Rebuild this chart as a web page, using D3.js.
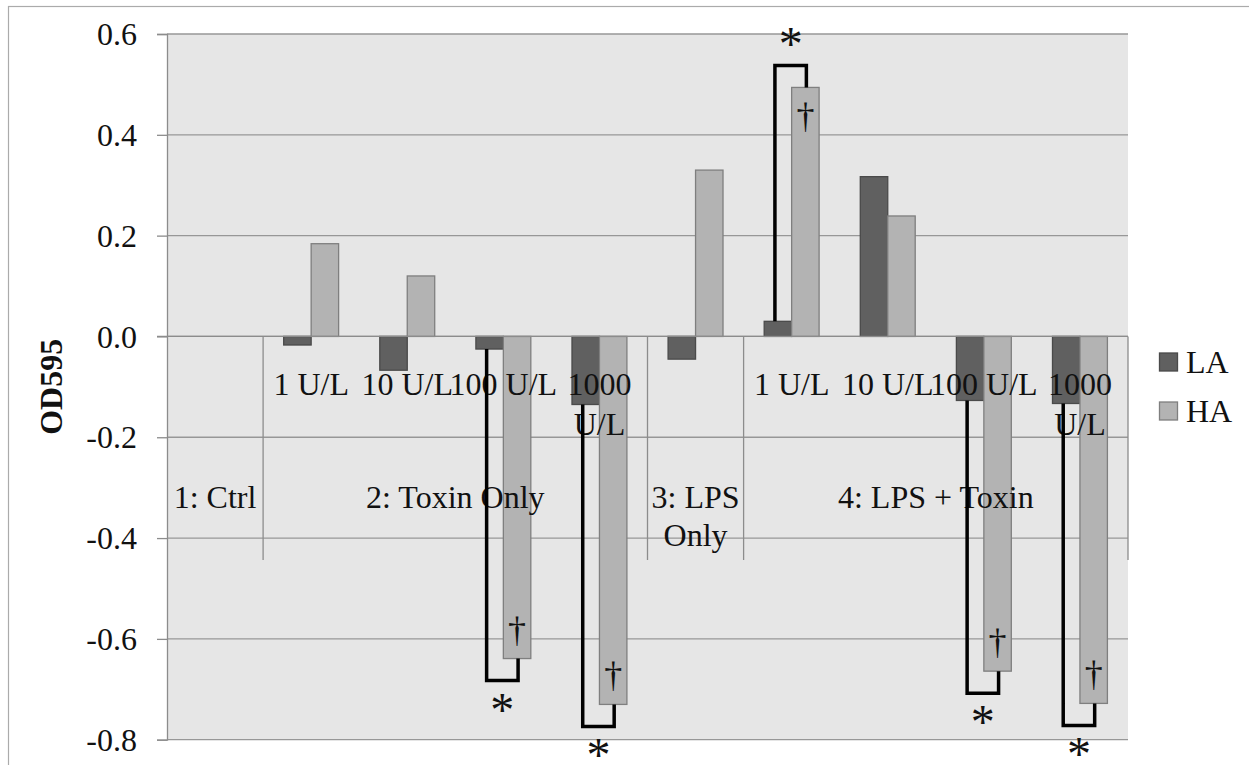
<!DOCTYPE html>
<html>
<head>
<meta charset="utf-8">
<script src="https://cdn.jsdelivr.net/npm/d3@7"></script>
<style>
  html, body { margin: 0; padding: 0; background: #fff; }
  svg { display: block; font-family: "Liberation Serif", "Times New Roman", serif; }
</style>
</head>
<body>
<svg id="chart" width="1249" height="765"></svg>
<script>
// ---- data ----
const categories = ["c1", "c2", "c3", "c4", "c5", "c6", "c7", "c8", "c9", "c10"];
const innerLabels = ["", "1 U/L", "10 U/L", "100 U/L", "1000\nU/L", "", "1 U/L", "10 U/L", "100 U/L", "1000\nU/L"];
const groupLabels = ["1: Ctrl", "2: Toxin Only", "3: LPS\nOnly", "4: LPS + Toxin"];
const groupSizes = [1, 4, 1, 4];
const seriesNames = ["LA", "HA"];
const LA = [0, -0.017, -0.067, -0.025, -0.135, -0.045, 0.030, 0.317, -0.127, -0.133];
const HA = [0, 0.184, 0.120, -0.639, -0.730, 0.330, 0.494, 0.239, -0.664, -0.728];
const significant = ["c4", "c5", "c7", "c9", "c10"];   // * bracket and † marker
const yTicks = [-0.8, -0.6, -0.4, -0.2, 0.0, 0.2, 0.4, 0.6];
const yTickLabels = ["-0.8", "-0.6", "-0.4", "-0.2", "0.0", "0.2", "0.4", "0.6"];
const yTitle = "OD595";

// ---- layout ----
const svg = d3.select("#chart");
const W = 1249, H = 765;
const plot = { left: 167, right: 1128, top: 34, bottom: 739.7 };
const colors = { LA: "#606060", HA: "#b3b3b3" };
const strokes = { LA: "#4a4a4a", HA: "#7f7f7f" };
const FONT = 32;

// outer chart border (cropped)
svg.append("rect").attr("x", 8.5).attr("y", 6.5).attr("width", W + 20).attr("height", H + 20)
  .attr("fill", "#fff").attr("stroke", "#ababab").attr("stroke-width", 1.2);

const y = d3.scaleLinear().domain([-0.8, 0.6]).range([plot.bottom, plot.top]);
const x0 = d3.scaleBand().domain(categories).range([plot.left, plot.right]).padding(0);
const x1 = d3.scaleBand().domain(seriesNames).range([0, x0.bandwidth()]).paddingInner(0).paddingOuter(0.75);

// plot background
svg.append("rect").attr("x", plot.left).attr("y", plot.top)
  .attr("width", plot.right - plot.left).attr("height", plot.bottom - plot.top)
  .attr("fill", "#e6e6e6");

// gridlines
svg.append("g").selectAll("line").data(yTicks).join("line")
  .attr("x1", plot.left).attr("x2", plot.right)
  .attr("y1", d => y(d)).attr("y2", d => y(d))
  .attr("stroke", "#979797").attr("stroke-width", 1.3);

// y axis
const yAxis = d3.axisLeft(y).tickValues(yTicks).tickSize(10).tickPadding(20)
  .tickFormat((d, i) => yTickLabels[i]);
const gy = svg.append("g").attr("transform", `translate(${plot.left},0)`).call(yAxis);
gy.select(".domain").attr("stroke", "#8c8c8c").attr("stroke-width", 1.3);
gy.selectAll(".tick line").attr("stroke", "#8c8c8c").attr("stroke-width", 1.3);
gy.selectAll(".tick text").attr("font-size", FONT).attr("fill", "#111")
  .attr("font-family", "Liberation Serif, Times New Roman, serif").attr("dy", "0.33em");

// y title
svg.append("text").attr("transform", `translate(62,${(plot.top + plot.bottom) / 2}) rotate(-90)`)
  .attr("text-anchor", "middle").attr("font-size", FONT).attr("font-weight", "bold")
  .attr("fill", "#111").text(yTitle);

// bars
const rows = categories.map((c, i) => ({ c, LA: LA[i], HA: HA[i] }));
const barG = svg.append("g");
rows.forEach(r => {
  seriesNames.forEach(s => {
    const v = r[s];
    if (v === 0) return;
    barG.append("rect")
      .attr("x", x0(r.c) + x1(s)).attr("width", x1.bandwidth())
      .attr("y", Math.min(y(v), y(0))).attr("height", Math.abs(y(v) - y(0)))
      .attr("fill", colors[s]).attr("stroke", strokes[s]).attr("stroke-width", 1.3);
  });
});

// category axis line at zero
svg.append("line").attr("x1", plot.left - 10).attr("x2", plot.right)
  .attr("y1", y(0)).attr("y2", y(0)).attr("stroke", "#8c8c8c").attr("stroke-width", 1.3);

// group boundaries
let acc = 0;
const bounds = [];
groupSizes.forEach(n => { acc += n; bounds.push(acc); });
const groupStarts = [0, ...bounds.slice(0, -1)];
svg.append("g").selectAll("line").data(bounds).join("line")
  .attr("x1", d => x0(categories[d - 1]) + x0.bandwidth())
  .attr("x2", d => x0(categories[d - 1]) + x0.bandwidth())
  .attr("y1", y(0)).attr("y2", 560)
  .attr("stroke", "#8c8c8c").attr("stroke-width", 1.3);

// inner labels
function multiline(sel, txt, lh) {
  txt.split("\n").forEach((t, k) => sel.append("tspan").attr("x", sel.attr("x")).attr("dy", k === 0 ? 0 : lh).text(t));
}
categories.forEach((c, i) => {
  if (!innerLabels[i]) return;
  const t = svg.append("text").attr("x", x0(c) + x0.bandwidth() / 2).attr("y", 395)
    .attr("text-anchor", "middle").attr("font-size", FONT).attr("fill", "#111");
  multiline(t, innerLabels[i], 40);
});

// group labels
groupLabels.forEach((g, i) => {
  const a = x0(categories[groupStarts[i]]);
  const b = x0(categories[bounds[i] - 1]) + x0.bandwidth();
  const t = svg.append("text").attr("x", (a + b) / 2).attr("y", 508)
    .attr("text-anchor", "middle").attr("font-size", FONT).attr("fill", "#111");
  multiline(t, g, 38);
});

// significance brackets, asterisks, daggers
const annG = svg.append("g");
significant.forEach(c => {
  const r = rows.find(d => d.c === c);
  const dir = r.HA < 0 ? 1 : -1; // 1 = downward (pixel)
  const xa = x0(c) + x1("LA") + x1.bandwidth() / 2 - 3;
  const xh = x0(c) + x1("HA") + x1.bandwidth() / 2 + 1;
  const yEndHA = y(r.HA);
  const yB = yEndHA + dir * 22;
  annG.append("path")
    .attr("d", `M${xa},${y(r.LA)} V${yB} H${xh} V${yEndHA}`)
    .attr("fill", "none").attr("stroke", "#000").attr("stroke-width", 3.5);
  annG.append("text").attr("x", (xa + xh) / 2).attr("y", yB + dir * 25 + 20)
    .attr("text-anchor", "middle").attr("font-size", 48).attr("fill", "#111").text("*");
  annG.append("text").attr("x", x0(c) + x1("HA") + x1.bandwidth() / 2).attr("y", yEndHA - dir * 29 + 12)
    .attr("text-anchor", "middle").attr("font-size", 36).attr("fill", "#111").text("†");
});

// legend
const legend = svg.append("g");
seriesNames.forEach((s, i) => {
  const yy = 353 + i * 49;
  legend.append("rect").attr("x", 1159.5).attr("y", yy).attr("width", 18).attr("height", 18)
    .attr("fill", colors[s]).attr("stroke", strokes[s]).attr("stroke-width", 1.3);
  legend.append("text").attr("x", 1186).attr("y", yy + 20).attr("font-size", FONT).attr("fill", "#111").text(s);
});
</script>
</body>
</html>
